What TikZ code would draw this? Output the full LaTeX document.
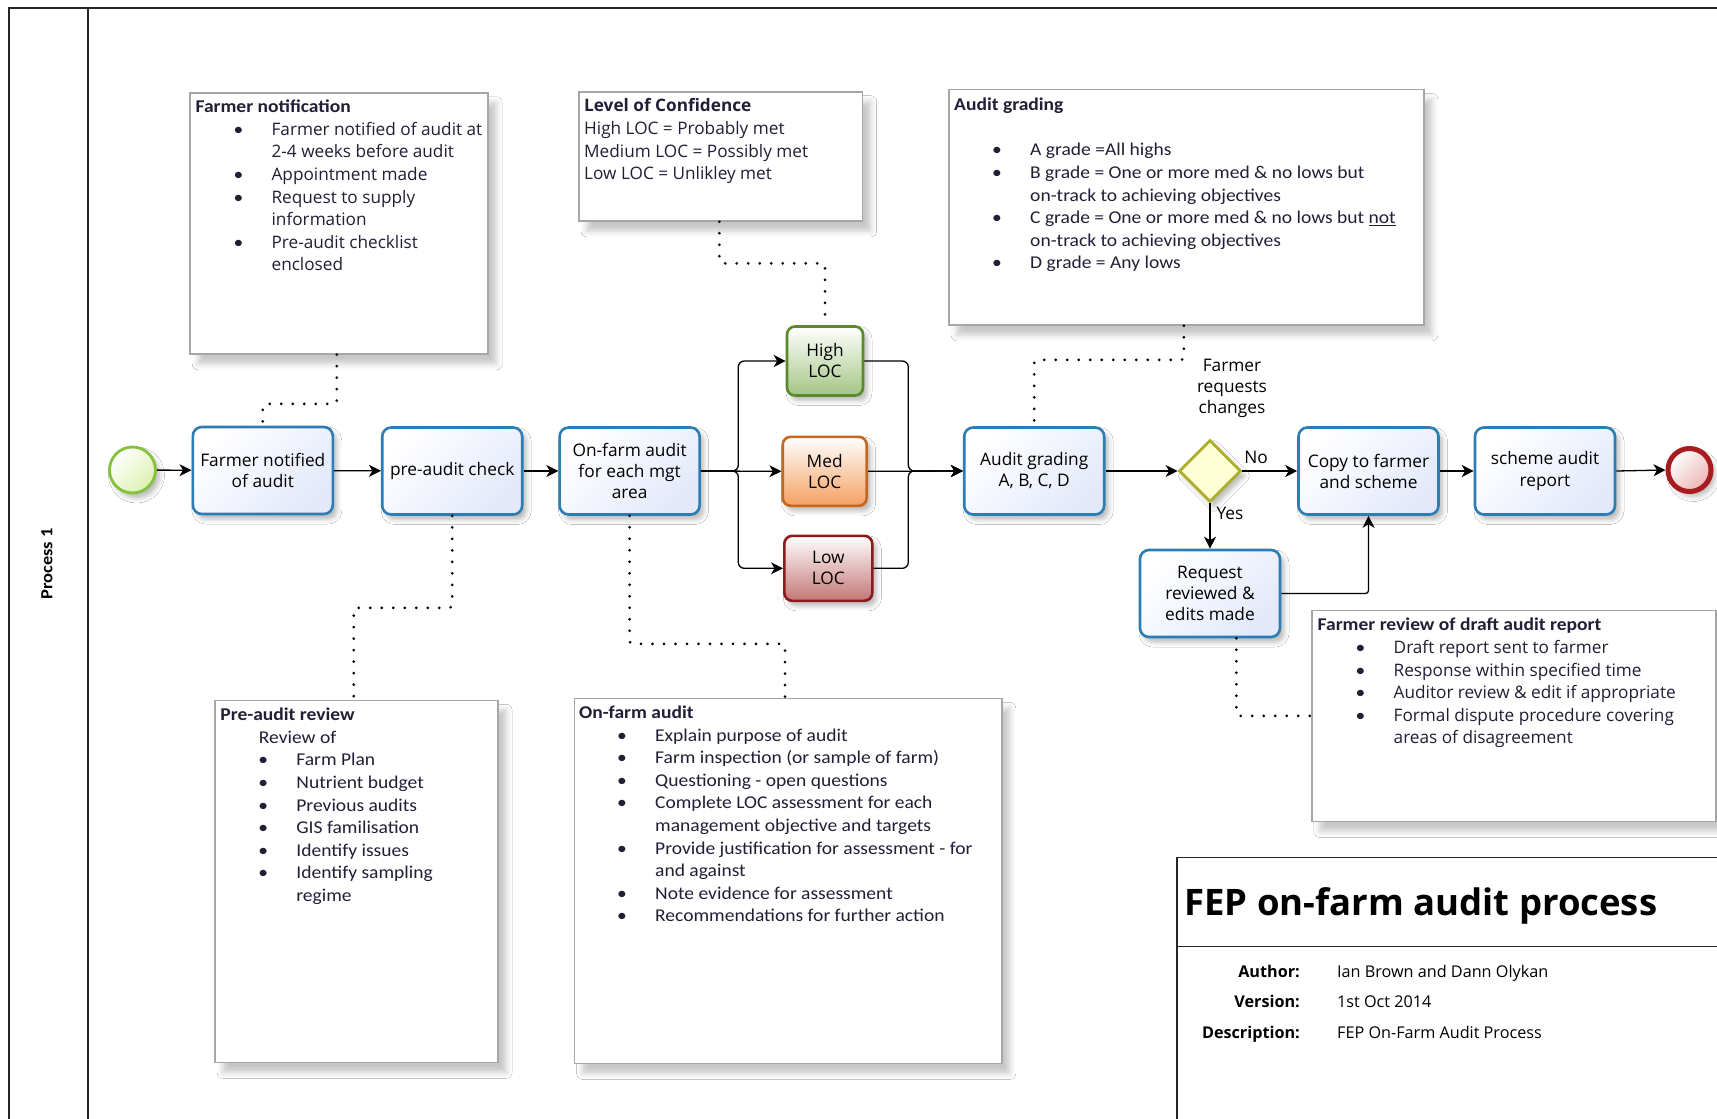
\documentclass[tikz,border=0pt]{standalone}
\usepackage{fontspec}
\setmainfont{Open Sans}
\newfontfamily\segoe{Open Sans}
\newfontfamily\calib[FakeStretch=1.085]{Carlito}
\usetikzlibrary{arrows.meta,shapes.geometric,shadows.blur}

\definecolor{taskblue}{HTML}{2C7DB3}
\definecolor{taskfill}{HTML}{E3E9FA}
\definecolor{startgreen}{HTML}{84C13C}
\definecolor{startfill}{HTML}{DDF0B0}
\definecolor{endred}{HTML}{A81B1E}
\definecolor{endfill}{HTML}{EDB4B4}
\definecolor{gwstroke}{HTML}{AEAE2E}
\definecolor{gwfill}{HTML}{FFFFD6}
\definecolor{histroke}{HTML}{5A8A2A}
\definecolor{hifill}{HTML}{A3C584}
\definecolor{medstroke}{HTML}{C5671E}
\definecolor{medfill}{HTML}{F5A061}
\definecolor{lowstroke}{HTML}{8B1B1B}
\definecolor{lowfill}{HTML}{C47676}
\definecolor{annot}{HTML}{A6A6A6}
\definecolor{atext}{HTML}{221E36}

\newcommand\tfont{\segoe\fontsize{17.3}{21}\selectfont}
\newcommand\afont{\segoe\fontsize{17.2}{22.6}\selectfont}
\newcommand\cfont{\calib\fontsize{18}{22.6}\selectfont}
\newcommand\ttl[1]{{\calib\bfseries\fontsize{18}{22.6}\selectfont #1}}
\newcommand\itm{\hspace*{38pt}\makebox[38pt][l]{{\calib\fontsize{18}{22.6}\selectfont\textbullet}}}
\newcommand\cnt{\hspace*{76pt}}
\newcommand\fl{\rule{0pt}{14pt}}

\tikzset{
  flow/.style={draw=black, line width=1.3pt, -{Stealth[length=12pt,width=12pt,inset=3.5pt]}},
  assoc/.style={draw=black, line width=3pt, line cap=round, dash pattern=on 0pt off 11.5pt, rounded corners=3pt},
  shad/.style={blur shadow={shadow xshift=4pt, shadow yshift=-5pt, shadow blur radius=5pt, shadow opacity=28}},
  bigshad/.style={blur shadow={shadow xshift=8pt, shadow yshift=-10pt, shadow blur radius=6pt, shadow opacity=22}},
  task/.style={shad, draw=taskblue, line width=2.6pt, rounded corners=9pt, top color=white, bottom color=taskfill, shading angle=45, minimum width=140pt, minimum height=87pt, inner sep=2pt, align=center, font=\tfont, text=black},
  loc/.style={shad, line width=2.6pt, rounded corners=8pt, top color=white, shading angle=45, inner sep=1pt, align=center, font=\tfont, text=black},
  annotbox/.style={bigshad, draw=annot, line width=1.6pt, fill=white, anchor=north west, inner sep=0pt},
  annottext/.style={anchor=north west, inner sep=0pt, align=left, text=atext},
  lane/.style={draw=black!85, line width=1.5pt},
  lbl/.style={font=\tfont, inner sep=0pt, align=center, text=black}
}

\begin{document}
\begin{tikzpicture}[x=1pt,y=-1pt]
\useasboundingbox (0,0) rectangle (1717,1119);
\fill[white] (0,0) rectangle (1717,1119);

% lane
\draw[lane] (1717,8) -- (9,8) -- (9,1119);
\draw[lane] (88,8) -- (88,1119);
\node[rotate=90, font={\calib\bfseries\fontsize{17}{20}\selectfont}] (lanetitle) at (47,564) {Process 1};

% annotation boxes
\node[annotbox, minimum width=298pt, minimum height=261pt] (fnbox) at (189.4,92) {};
\node[annotbox, minimum width=283.6pt, minimum height=129.2pt] (locbox) at (578.2,90.9) {};
\node[annotbox, minimum width=474.7pt, minimum height=235.4pt] (agbox) at (948.3,88.7) {};
\node[annotbox, minimum width=283pt, minimum height=362pt] (prbox) at (214.3,699.5) {};
\node[annotbox, minimum width=427.2pt, minimum height=365pt] (ofbox) at (573.8,697.6) {};
\node[annotbox, minimum width=404pt, minimum height=211pt] (frbox) at (1311,609.5) {};

% annotation texts
\node[annottext, font=\afont] (fntext) at (195.4,98.5) {\fl\ttl{Farmer notification}\\
\itm Farmer notified of audit at\\
\cnt 2-4 weeks before audit\\
\itm Appointment made\\
\itm Request to supply\\
\cnt information\\
\itm Pre-audit checklist\\
\cnt enclosed};

\node[annottext, font=\afont] (loctext) at (584,97.7) {\fl\textbf{Level of Confidence}\\
High LOC = Probably met\\
Medium LOC = Possibly met\\
Low LOC = Unlikley met};

\node[annottext, font=\cfont] (agtext) at (954,96.5) {\fl\ttl{Audit grading}\\
\mbox{}\\
\itm A grade =All highs\\
\itm B grade = One or more med \& no lows but\\
\cnt on-track to achieving objectives\\
\itm C grade = One or more med \& no lows but \underline{not}\\
\cnt on-track to achieving objectives\\
\itm D grade = Any lows};

\node[annottext, font=\cfont] (prtext) at (220.2,706.5) {\fl\ttl{Pre-audit review}\\
\hspace*{38.5pt}Review of\\
\itm Farm Plan\\
\itm Nutrient budget\\
\itm Previous audits\\
\itm GIS familisation\\
\itm Identify issues\\
\itm Identify sampling\\
\cnt regime};

\node[annottext, font=\cfont] (oftext) at (579,704.3) {\fl\ttl{On-farm audit}\\
\itm Explain purpose of audit\\
\itm Farm inspection (or sample of farm)\\
\itm Questioning - open questions\\
\itm Complete LOC assessment for each\\
\cnt management objective and targets\\
\itm Provide justification for assessment - for\\
\cnt and against\\
\itm Note evidence for assessment\\
\itm Recommendations for further action};

\node[annottext, font=\afont] (frtext) at (1317.5,616.7) {\fl\ttl{Farmer review of draft audit report}\\
\itm Draft report sent to farmer\\
\itm Response within specified time\\
\itm Auditor review \& edit if appropriate\\
\itm Formal dispute procedure covering\\
\cnt areas of disagreement};

% events
\node[shad, circle, minimum size=46pt, inner sep=0pt, draw=startgreen, line width=2.8pt, top color=white, bottom color=startfill, shading angle=45] (start) at (132.5,470) {};
\node[shad, circle, minimum size=43pt, inner sep=0pt, draw=endred, line width=5pt, top color=white, bottom color=endfill, shading angle=45] (end) at (1689.5,470) {};

% tasks
\node[task] (t1) at (262.8,470.5) {Farmer notified\\of audit};
\node[task] (t2) at (452.2,471) {pre-audit check};
\node[task] (t3) at (629.6,471) {On-farm audit\\for each mgt\\area};
\node[task] (t4) at (1034.2,471) {Audit grading\\A, B, C, D};
\node[task] (t5) at (1368.5,471) {Copy to farmer\\and scheme};
\node[task] (t6) at (1545,471) {scheme audit\\report};
\node[task] (t7) at (1210,593.5) {Request\\reviewed \&\\edits made};

% LOC boxes
\node[loc, draw=histroke, bottom color=hifill, minimum width=76pt, minimum height=69pt] (high) at (825,361) {High\\LOC};
\node[loc, draw=medstroke, bottom color=medfill, minimum width=84pt, minimum height=69pt] (med) at (824.7,471.3) {Med\\LOC};
\node[loc, draw=lowstroke, bottom color=lowfill, minimum width=88pt, minimum height=65pt] (low) at (828.3,568.3) {Low\\LOC};

% gateway
\node[shad, diamond, aspect=1, minimum width=62pt, minimum height=62pt, inner sep=0pt, draw=gwstroke, line width=2.8pt, fill=gwfill] (gw) at (1210,471) {};

% labels
\node[lbl] (gwlabel) at (1232,388) {Farmer\\requests\\changes};
\node[lbl] (nolabel) at (1256,457) {No};
\node[lbl] (yeslabel) at (1230,513) {Yes};

% junctions
\coordinate (split) at (738.3,471);
\coordinate (merge) at (908.3,471);

% sequence flows
\draw[flow] (start) -- (t1);
\draw[flow] (t1) -- (t2);
\draw[flow] (t2) -- (t3);
\draw[flow, rounded corners=6pt] (t3.east) -- (split) |- (high.west);
\draw[flow, rounded corners=6pt] (t3.east) -- (split) |- (low.west);
\draw[flow] (t3.east) -- (med.west);
\draw[flow, rounded corners=6pt] (high.east) -| (merge) -- (t4.west);
\draw[flow, rounded corners=6pt] (low.east) -| (merge) -- (t4.west);
\draw[flow] (med.east) -- (t4.west);
\draw[flow] (t4.east) -- (gw.west);
\draw[flow] (gw.east) -- (t5.west);
\draw[flow] (gw.south) -- (t7.north);
\draw[flow, rounded corners=3pt] (t7.east) -| (t5.south);
\draw[flow] (t5.east) -- (t6.west);
\draw[flow] (t6.east) -- (end.west);

% associations
\draw[assoc] ([xshift=147.4pt]fnbox.south west) -- ++(0,49.3) -| (t1.north);
\draw[assoc] (t2.south) -- ++(0,92) -| ([xshift=139.4pt]prbox.north west);
\draw[assoc] (t3.south) -- ++(0,128) -| ([xshift=211.2pt]ofbox.north west);
\draw[assoc] ([xshift=141.2pt]locbox.south west) -- ++(0,41.6) -| (high.north);
\draw[assoc] ([xshift=235.6pt]agbox.south west) -- ++(0,34.2) -| (t4.north);
\draw[assoc] ([xshift=26.3pt]t7.south) |- (frbox.west);

% title block
\draw[lane] (1177,1119) -- (1177,857.4) -- (1717,857.4);
\draw[lane] (1177,946.7) -- (1717,946.7);
\node[anchor=base west, inner sep=0pt, font={\segoe\bfseries\fontsize{36.5}{40}\selectfont}] (title) at (1184,915) {FEP on-farm audit process};
\node[anchor=base east, inner sep=0pt, font={\segoe\bfseries\fontsize{16.2}{18}\selectfont}] (authl) at (1300,977.2) {Author:};
\node[anchor=base east, inner sep=0pt, font={\segoe\bfseries\fontsize{16.2}{18}\selectfont}] (verl) at (1300,1007.8) {Version:};
\node[anchor=base east, inner sep=0pt, font={\segoe\bfseries\fontsize{16.2}{18}\selectfont}] (descl) at (1300,1038.2) {Description:};
\node[anchor=base west, inner sep=0pt, font={\segoe\fontsize{16.2}{18}\selectfont}] (authv) at (1337,977.2) {Ian Brown and Dann Olykan};
\node[anchor=base west, inner sep=0pt, font={\segoe\fontsize{16.2}{18}\selectfont}] (verv) at (1337,1007.8) {1st Oct 2014};
\node[anchor=base west, inner sep=0pt, font={\segoe\fontsize{16.2}{18}\selectfont}] (descv) at (1337,1038.2) {FEP On-Farm Audit Process};
\end{tikzpicture}
\end{document}
